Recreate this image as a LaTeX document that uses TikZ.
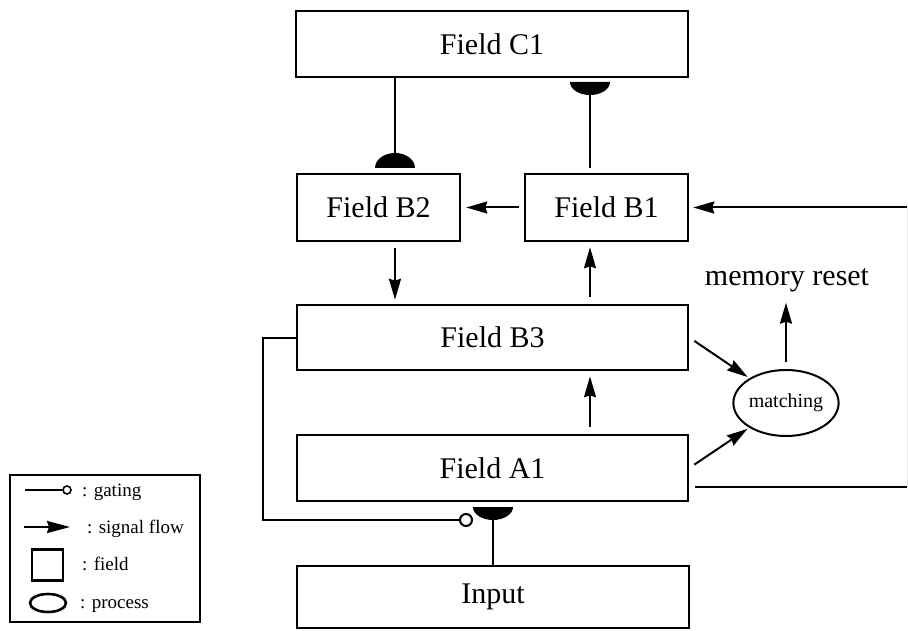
\documentclass[tikz,border=0pt]{standalone}
\usepackage{fontspec}
\setmainfont{Liberation Serif}
\usetikzlibrary{arrows.meta,shapes.geometric}

\begin{document}
\begin{tikzpicture}[x=1pt,y=-1pt,
  field/.style={draw, rectangle, line width=2.6pt, inner sep=0pt,
    font=\fontsize{30}{36}\selectfont},
  wire/.style={line width=2pt},
  flow/.style={line width=2pt, -{Stealth[length=21pt,width=12pt,inset=2pt]}},
  legtext/.style={anchor=base west, inner sep=0pt, font=\fontsize{19}{22}\selectfont},
  pics/domeup/.style={code={%
    \fill (-20,0) .. controls (-20,-8.3) and (-11,-15) .. (0,-15)
          .. controls (11,-15) and (20,-8.3) .. (20,0) -- cycle;}},
  pics/domedown/.style={code={%
    \fill (-20,0) .. controls (-20,7.2) and (-11,13) .. (0,13)
          .. controls (11,13) and (20,7.2) .. (20,0) -- cycle;}},
]
\useasboundingbox (0,0) rectangle (908,631);

% fields
\node[field, minimum width=392pt, minimum height=66pt] (C1) at (492,44) {Field C1};
\node[field, minimum width=163pt, minimum height=67pt] (B2) at (378.5,207.5) {Field B2};
\node[field, minimum width=163pt, minimum height=67pt] (B1) at (606.5,207.5) {Field B1};
\node[field, minimum width=391pt, minimum height=65pt] (B3) at (492.5,337.5) {Field B3};
\node[field, minimum width=391pt, minimum height=66pt] (A1) at (492.5,468) {Field A1};
\node[field, minimum width=392pt, minimum height=62pt] (In) at (493,597) {Input};

% matching process and its output
\node[ellipse, draw, line width=2pt, minimum width=92pt, minimum height=66pt,
      inner sep=0pt, font=\fontsize{20}{24}\selectfont] (match) at (786,403) {matching};
\node[anchor=base, inner sep=0pt, font=\fontsize{30}{36}\selectfont] (reset) at (787,285) {memory reset};

% gating terminals
\pic at (395,168) {domeup};
\pic at (590,82) {domedown};
\pic at (493,507) {domedown};
\coordinate (gB2) at (395,153);
\coordinate (gC1) at (590,95);
\coordinate (gA1) at (493,519);
\coordinate (xL) at (395,0);
\coordinate (xR) at (590,0);
\node[circle, draw, fill=white, line width=2pt, minimum size=12pt, inner sep=0pt] (gcirc) at (466,520) {};

% gating connections
\draw[wire] (C1.south -| gB2) -- (gB2);
\draw[wire, shorten <=5pt] (B1.north -| gC1) -- (gC1);
\draw[wire] (In.north) -- (gA1);
\draw[wire] (B3.west) -- ++(-33,0) |- (gcirc.west);

% signal flow
\draw[flow, shorten <=5pt, shorten >=5pt] (B1.west) -- (B2.east);
\draw[flow, shorten <=6pt, shorten >=4pt] (B2.south -| xL) -- (B3.north -| xL);
\draw[flow, shorten <=7pt, shorten >=5pt] (B3.north -| xR) -- (B1.south -| xR);
\draw[flow, shorten <=7pt, shorten >=5pt] (A1.north -| xR) -- (B3.south -| xR);
\draw[flow, shorten <=6pt, shorten >=2pt] (B3.east) -- (match);
\draw[flow, shorten <=6pt, shorten >=2pt] (A1.east) -- (match);
\draw[flow, shorten <=7pt, shorten >=11pt] (match.north) -- (reset.south -| match.north);

% feedback loop from A1 back to B1
\coordinate (loopA) at (695,487);
\coordinate (loopB) at (907,487);
\coordinate (loopC) at (907,207.5);
\draw[wire] (loopA) -- (loopB);
\draw[gray!18, line width=1pt] (loopB) -- (loopC);
\draw[flow, shorten >=4pt] (loopC) -- (B1.east);

% legend
\draw[line width=2.2pt] (10,475) rectangle (200,622);
\coordinate (lg1) at (25,490);
\node[circle, draw, line width=1.6pt, minimum size=8pt, inner sep=0pt] (lgc) at (67,490) {};
\draw[line width=1.6pt] (lg1) -- (lgc.west);
\node[legtext] (tg) at (82,496) {: gating};
\coordinate (lf1) at (24,527);
\coordinate (lf2) at (70,527);
\draw[line width=2pt, -{Stealth[length=23pt,width=12pt,inset=2pt]}] (lf1) -- (lf2);
\node[legtext] (tf) at (87,533) {: signal flow};
\node[draw, rectangle, line width=2.6pt, minimum size=31pt, inner sep=0pt] (lsq) at (47.5,565) {};
\node[legtext] (tfd) at (82,570) {: field};
\node[draw, ellipse, line width=2.6pt, minimum width=36pt, minimum height=18pt, inner sep=0pt] (lel) at (48,603) {};
\node[legtext] (tp) at (80,608) {: process};
\end{tikzpicture}
\end{document}
